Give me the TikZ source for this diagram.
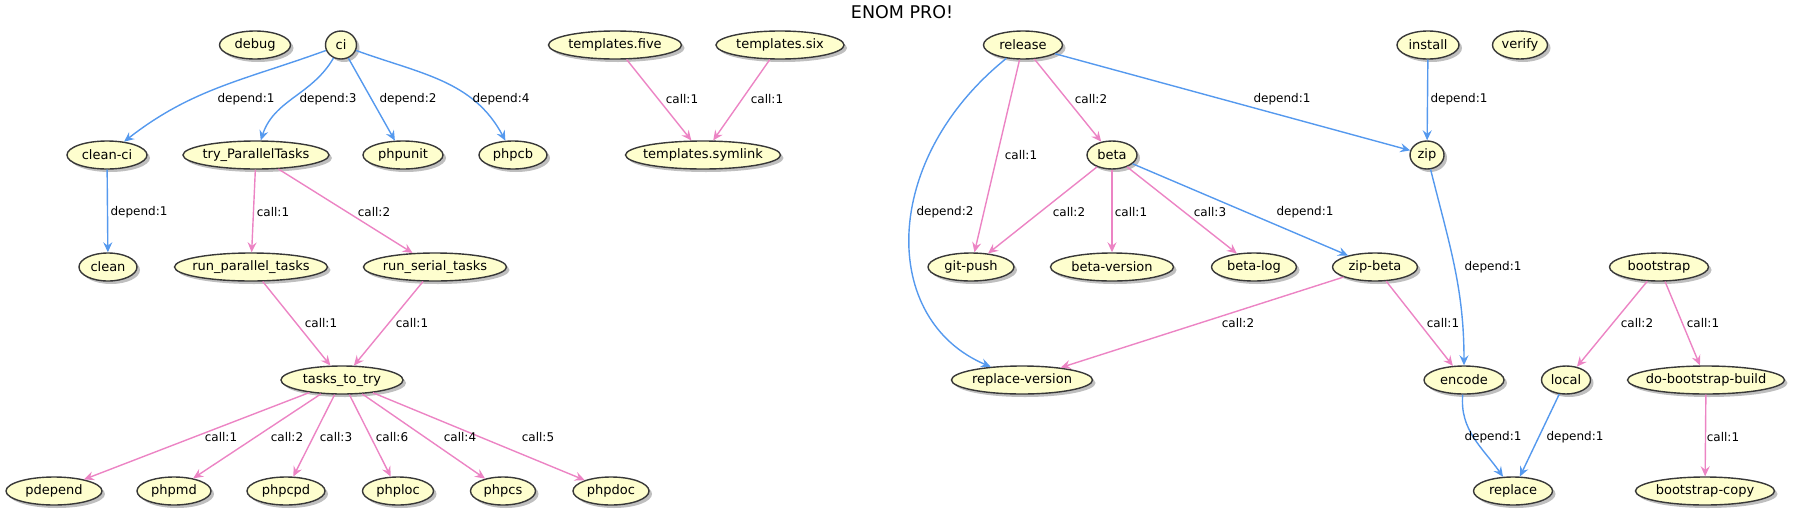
\documentclass[tikz,border=0pt]{standalone}
\usepackage{fontspec}
\setmainfont{DejaVu Sans}
\usetikzlibrary{shapes.geometric,arrows.meta,shadows}
\definecolor{nodefill}{HTML}{FEFECE}
\definecolor{nodeline}{HTML}{383838}
\definecolor{depc}{RGB}{85,153,238}
\definecolor{calc}{RGB}{236,132,196}
\begin{document}
\begin{tikzpicture}[x=1pt,y=-1pt,
  uc/.style={ellipse, draw=nodeline, line width=1.4pt, fill=nodefill,
    minimum height=28pt, inner xsep=-25pt, inner ysep=-5pt,
    font=\fontsize{13}{15}\selectfont,
    drop shadow={shadow xshift=3pt,shadow yshift=-3pt,opacity=0.25,fill=black}},
  w/.style={minimum width=#1pt},
  tip/.style={-{Stealth[length=10pt,width=9pt,inset=3.5pt]}},
  dedge/.style={draw=depc, line width=1.4pt, tip},
  cedge/.style={draw=calc, line width=1.4pt, tip},
  lbl/.style={font=\fontsize{12}{14}\selectfont, text=black, inner sep=0pt, anchor=center}
]
\useasboundingbox (0,0) rectangle (1794,517);
\node[font=\fontsize{17.5}{20}\selectfont] (title) at (902,12) {ENOM PRO!};

% row 1
\node[uc,w=71]  (debug)   at (255,45)  {debug};
\node[uc,w=31]  (ci)      at (341,45)  {ci};
\node[uc,w=133] (tfive)   at (615,45)  {templates.five};
\node[uc,w=128] (tsix)    at (780,45)  {templates.six};
\node[uc,w=79]  (release) at (1023,45) {release};
\node[uc,w=62]  (install) at (1428,45) {install};
\node[uc,w=55]  (verify)  at (1520,45) {verify};
% row 2
\node[uc,w=80]  (cleanci) at (107,155) {clean-ci};
\node[uc,w=146] (tryp)    at (256,155) {try\_ParallelTasks};
\node[uc,w=80]  (phpunit) at (403,155) {phpunit};
\node[uc,w=68]  (phpcb)   at (513,155) {phpcb};
\node[uc,w=155] (tsym)    at (703,155) {templates.symlink};
\node[uc,w=50]  (beta)    at (1112,155) {beta};
\node[uc,w=34]  (zip)     at (1427,155) {zip};
% row 3
\node[uc,w=58]  (clean)   at (108,267) {clean};
\node[uc,w=153] (runpar)  at (251,267) {run\_parallel\_tasks};
\node[uc,w=143] (runser)  at (435,267) {run\_serial\_tasks};
\node[uc,w=86]  (gitpush) at (971,267) {git-push};
\node[uc,w=123] (betaver) at (1112,267) {beta-version};
\node[uc,w=85]  (betalog) at (1254,267) {beta-log};
\node[uc,w=85]  (zipbeta) at (1375,267) {zip-beta};
\node[uc,w=99]  (boot)    at (1659,267) {bootstrap};
% row 4
\node[uc,w=122] (tasks)   at (342,380) {tasks\_to\_try};
\node[uc,w=141] (repver)  at (1022,380) {replace-version};
\node[uc,w=80]  (encode)  at (1464,380) {encode};
\node[uc,w=49]  (local)   at (1566,380) {local};
\node[uc,w=157] (dobb)    at (1706,380) {do-bootstrap-build};
% row 5
\node[uc,w=96]  (pdepend) at (54,491)  {pdepend};
\node[uc,w=74]  (phpmd)   at (174,491) {phpmd};
\node[uc,w=78]  (phpcpd)  at (286,491) {phpcpd};
\node[uc,w=71]  (phploc)  at (398,491) {phploc};
\node[uc,w=65]  (phpcs)   at (503,491) {phpcs};
\node[uc,w=76]  (phpdoc)  at (611,491) {phpdoc};
\node[uc,w=79]  (replace) at (1513,491) {replace};
\node[uc,w=139] (bcopy)   at (1705,491) {bootstrap-copy};

% edges
\draw[dedge] (ci) to[out=200,in=38] (cleanci);
\draw[dedge] (ci) to[out=240,in=72] (tryp);
\draw[dedge] (ci) -- (phpunit);
\draw[dedge] (ci) to[out=-20,in=118] (phpcb);
\draw[dedge] (cleanci) -- (clean);
\draw[cedge] (tryp) -- (runpar);
\draw[cedge] (tryp) -- (runser);
\draw[cedge] (runpar) -- (tasks);
\draw[cedge] (runser) -- (tasks);
\draw[cedge] (tasks) -- (pdepend);
\draw[cedge] (tasks) -- (phpmd);
\draw[cedge] (tasks) -- (phpcpd);
\draw[cedge] (tasks) -- (phploc);
\draw[cedge] (tasks) -- (phpcs);
\draw[cedge] (tasks) -- (phpdoc);
\draw[cedge] (tfive) -- (tsym);
\draw[cedge] (tsix) -- (tsym);
\draw[cedge] (release) -- (gitpush);
\draw[dedge] (release) .. controls (880,160) and (880,320) .. (repver);
\draw[cedge] (release) -- (beta);
\draw[dedge] (release) -- (zip);
\draw[dedge] (install) -- (zip);
\draw[cedge] (beta) -- (gitpush);
\draw[cedge] (beta) -- (betaver);
\draw[cedge] (beta) -- (betalog);
\draw[dedge] (beta) -- (zipbeta);
\draw[dedge] (zip) to[out=-76,in=90] (encode);
\draw[cedge] (zipbeta) -- (repver);
\draw[cedge] (zipbeta) -- (encode);
\draw[cedge] (boot) -- (local);
\draw[cedge] (boot) -- (dobb);
\draw[dedge] (encode) to[out=265,in=125] (replace);
\draw[dedge] (local) -- (replace);
\draw[cedge] (dobb) -- (bcopy);

% labels
\node[lbl] (l01) at (246,99)  {depend:1};
\node[lbl] (l02) at (328,99)  {depend:3};
\node[lbl] (l03) at (408,99)  {depend:2};
\node[lbl] (l04) at (501,99)  {depend:4};
\node[lbl] (l05) at (139,212) {depend:1};
\node[lbl] (l06) at (273,212) {call:1};
\node[lbl] (l07) at (374,212) {call:2};
\node[lbl] (l08) at (321,323) {call:1};
\node[lbl] (l09) at (412,323) {call:1};
\node[lbl] (l10) at (221,437) {call:1};
\node[lbl] (l11) at (287,437) {call:2};
\node[lbl] (l12) at (336,437) {call:3};
\node[lbl] (l13) at (392,437) {call:6};
\node[lbl] (l14) at (460,437) {call:4};
\node[lbl] (l15) at (538,437) {call:5};
\node[lbl] (l16) at (682,99)  {call:1};
\node[lbl] (l17) at (767,99)  {call:1};
\node[lbl] (l18) at (1021,155) {call:1};
\node[lbl] (l19) at (945,212) {depend:2};
\node[lbl] (l20) at (1091,99) {call:2};
\node[lbl] (l21) at (1282,99) {depend:1};
\node[lbl] (l22) at (1459,99) {depend:1};
\node[lbl] (l23) at (1069,212) {call:2};
\node[lbl] (l24) at (1131,212) {call:1};
\node[lbl] (l25) at (1210,212) {call:3};
\node[lbl] (l26) at (1305,212) {depend:1};
\node[lbl] (l27) at (1493,267) {depend:1};
\node[lbl] (l28) at (1238,323) {call:2};
\node[lbl] (l29) at (1443,323) {call:1};
\node[lbl] (l30) at (1637,323) {call:2};
\node[lbl] (l31) at (1703,323) {call:1};
\node[lbl] (l32) at (1493,437) {depend:1};
\node[lbl] (l33) at (1575,437) {depend:1};
\node[lbl] (l34) at (1723,437) {call:1};
\end{tikzpicture}
\end{document}
